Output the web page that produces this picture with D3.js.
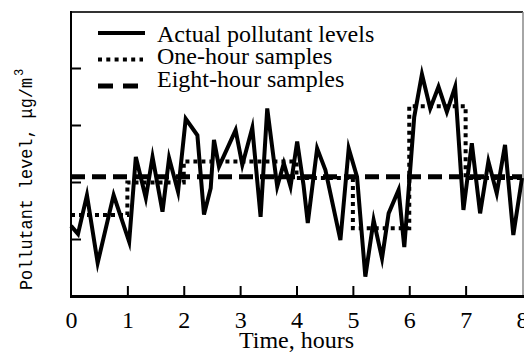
<!DOCTYPE html>
<html>
<head>
<meta charset="utf-8">
<script src="https://cdn.jsdelivr.net/npm/d3@7"></script>
<style>
  body { margin: 0; background: #fff; }
  svg { display: block; }
</style>
</head>
<body>
<div id="chart"></div>
<script>
// Actual pollutant levels (time in hours, level in tick units)
const actualTime = [0, 0.124, 0.283, 0.473, 0.756, 1.032, 1.15, 1.327, 1.446, 1.623, 1.74, 1.899,
  2.035, 2.242, 2.359, 2.478, 2.536, 2.625, 2.92, 3.039, 3.216, 3.363, 3.481, 3.658, 3.775, 3.894,
  4.012, 4.124, 4.2, 4.366, 4.513, 4.779, 4.926, 5.074, 5.221, 5.368, 5.517, 5.634, 5.811, 5.912,
  6.088, 6.225, 6.372, 6.519, 6.667, 6.814, 6.961, 7.11, 7.257, 7.404, 7.552, 7.699, 7.846, 8];
const actualLevel = [1.23, 1.09, 1.77, 0.58, 1.77, 0.95, 2.44, 1.72, 2.44, 1.48, 2.42, 1.83,
  3.11, 2.82, 1.43, 1.89, 2.74, 2.27, 2.91, 2.30, 2.95, 1.39, 3.29, 1.92, 2.33, 1.92,
  2.71, 1.95, 1.28, 2.59, 2.21, 0.98, 2.59, 2.09, 0.34, 1.33, 0.66, 1.45, 1.86, 0.86,
  3.14, 3.89, 3.29, 3.67, 3.23, 3.67, 1.51, 2.68, 1.45, 2.36, 1.80, 2.65, 1.07, 2.07];

// One-hour samples: one value per hour
const sampleHour = [0, 1, 2, 3, 4, 5, 6, 7];
const sampleLevel = [1.42, 1.99, 2.36, 2.36, 2.07, 1.19, 3.33, 2.07];

// Eight-hour sample
const eightHourLevel = 2.09;

const xTicks = [0, 1, 2, 3, 4, 5, 6, 7, 8];
const yTicks = [1, 2, 3, 4];
const legendLabels = ["Actual pollutant levels", "One-hour samples", "Eight-hour samples"];

const width = 524, height = 354;
const plotLeft = 71, plotRight = 522, plotTop = 12, plotBottom = 296;
const serif = "'Liberation Serif', 'Times New Roman', serif";

const svg = d3.select("#chart").append("svg")
  .attr("width", width)
  .attr("height", height);

const x = d3.scaleLinear().domain([0, 8]).range([plotLeft, plotRight]);
const y = d3.scaleLinear().domain([0, 5]).range([plotBottom, plotTop - 1]);

// frame
svg.append("line").attr("x1", plotLeft).attr("x2", plotRight + 1).attr("y1", plotTop).attr("y2", plotTop)
  .attr("stroke", "#333").attr("stroke-width", 2);
svg.append("line").attr("x1", plotRight + 1).attr("x2", plotRight + 1).attr("y1", plotTop).attr("y2", plotBottom)
  .attr("stroke", "#888").attr("stroke-width", 1.5);
svg.append("line").attr("x1", plotLeft).attr("x2", plotLeft).attr("y1", plotTop - 1).attr("y2", plotBottom + 1)
  .attr("stroke", "#000").attr("stroke-width", 2);
svg.append("line").attr("x1", plotLeft - 1).attr("x2", width).attr("y1", plotBottom + 0.5).attr("y2", plotBottom + 0.5)
  .attr("stroke", "#000").attr("stroke-width", 3);

// y axis: inward ticks, no labels
const yAxis = svg.append("g")
  .attr("transform", `translate(${plotLeft},0)`)
  .call(d3.axisLeft(y).tickValues(yTicks).tickSize(-10).tickFormat(""));
yAxis.select(".domain").remove();
yAxis.selectAll(".tick line").attr("stroke", "#000").attr("stroke-width", 2);

// x axis: inward ticks, labels below
const xAxis = svg.append("g")
  .attr("transform", `translate(0,${plotBottom})`)
  .call(d3.axisBottom(x).tickValues(xTicks).tickSize(-10).tickPadding(15).tickFormat(d3.format("d")));
xAxis.select(".domain").remove();
xAxis.selectAll(".tick line")
  .attr("stroke", "#000").attr("stroke-width", 2)
  .attr("display", d => (d === 0 || d === 8) ? "none" : null);
xAxis.selectAll(".tick text")
  .attr("fill", "#000")
  .style("font-family", serif)
  .style("font-size", "24px");

// axis titles
svg.append("text")
  .attr("x", (plotLeft + plotRight) / 2)
  .attr("y", 348)
  .attr("text-anchor", "middle")
  .style("font-family", serif)
  .style("font-size", "24px")
  .text("Time, hours");

const yTitle = svg.append("g").attr("transform", "translate(32,290) rotate(-90)");
yTitle.append("text")
  .attr("x", 0).attr("y", 0)
  .attr("textLength", 212)
  .attr("lengthAdjust", "spacingAndGlyphs")
  .style("font-family", "'Liberation Mono', 'Courier New', monospace")
  .style("font-size", "18px")
  .text("Pollutant level, \u03bcg/m");
yTitle.append("text")
  .attr("x", 214).attr("y", -9)
  .style("font-family", "'Liberation Mono', 'Courier New', monospace")
  .style("font-size", "12px")
  .text("3");

const plot = svg.append("g");

// eight-hour samples (dashed)
plot.append("line")
  .attr("x1", x(0)).attr("x2", x(8))
  .attr("y1", y(eightHourLevel)).attr("y2", y(eightHourLevel))
  .attr("stroke", "#000").attr("stroke-width", 5)
  .attr("stroke-dasharray", "14,7");

// one-hour samples (dotted step line)
const steps = sampleHour.map((h, i) => ({ t: h, v: sampleLevel[i] }));
steps.push({ t: 8, v: sampleLevel[sampleLevel.length - 1] });
plot.append("path")
  .datum(steps)
  .attr("fill", "none")
  .attr("stroke", "#000")
  .attr("stroke-width", 4)
  .attr("stroke-dasharray", "4,4")
  .attr("d", d3.line().x(d => x(d.t)).y(d => y(d.v)).curve(d3.curveStepAfter));

// actual levels (solid)
const actual = actualTime.map((t, i) => ({ t, v: actualLevel[i] }));
plot.append("path")
  .datum(actual)
  .attr("fill", "none")
  .attr("stroke", "#000")
  .attr("stroke-width", 4)
  .attr("stroke-linejoin", "miter")
  .attr("stroke-miterlimit", 6)
  .attr("d", d3.line().x(d => x(d.t)).y(d => y(d.v)));

// legend
const legend = svg.append("g");
const legendRows = [
  { lineY: 33, textY: 41.5, dash: null, w: 4, x2: 145 },
  { lineY: 59.5, textY: 64, dash: "4,4.3", w: 4, x2: 143 },
  { lineY: 86, textY: 86.5, dash: "15,10", w: 5, x2: 140 }
];
legendRows.forEach((r, i) => {
  legend.append("line")
    .attr("x1", 98).attr("x2", r.x2)
    .attr("y1", r.lineY).attr("y2", r.lineY)
    .attr("stroke", "#000").attr("stroke-width", r.w)
    .attr("stroke-dasharray", r.dash);
  legend.append("text")
    .attr("x", 157).attr("y", r.textY)
    .style("font-family", serif)
    .style("font-size", "24px")
    .text(legendLabels[i]);
});
</script>
</body>
</html>
